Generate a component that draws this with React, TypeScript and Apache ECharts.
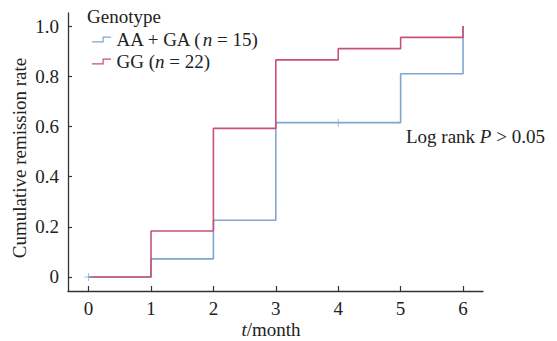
import React, { useEffect, useRef } from "react";
import * as echarts from "echarts";

const months = [0, 1, 2, 3, 4, 5, 6];
const yTicks = [0, 0.2, 0.4, 0.6, 0.8, 1.0];
const groupNames = ["AA + GA (n = 15)", "GG (n = 22)"];
const aaGaTimes = [0, 1, 2, 3, 5, 6];
const aaGaRates = [0, 0.072, 0.226, 0.615, 0.81, 1.0];
const ggTimes = [0, 1, 2, 3, 4, 5, 6];
const ggRates = [0, 0.183, 0.592, 0.865, 0.91, 0.955, 1.0];
const censorTimes = [0, 4];
const censorRates = [0, 0.615];

const FONT = "Liberation Serif";
const FS = 19;
const BLUE = "#7fa6cf";
const RED = "#c8507a";
const TEXT = "#222";

export default function App() {
  const ref = useRef<HTMLDivElement>(null);
  useEffect(() => {
    if (!ref.current) return;
    const chart = echarts.init(ref.current, undefined, { renderer: "svg" });
    const stepIcon = "path://M0,5 L11,5 L11,0 L20,0 L20,1.3 L12.3,1.3 L12.3,6.3 L0,6.3 Z";
    const italic = { fontStyle: "italic", fontFamily: FONT, fontSize: FS, color: TEXT };
    chart.setOption({
      animation: false,
      backgroundColor: "#fff",
      textStyle: { fontFamily: FONT },
      grid: { left: 68, top: 13, width: 415, height: 278, containLabel: false, outerBoundsMode: "none" },
      legend: {
        orient: "vertical",
        left: 92,
        top: 30,
        padding: 0,
        itemWidth: 20,
        itemHeight: 6,
        itemGap: 3,
        icon: stepIcon,
        data: groupNames,
        formatter: (name: string) => {
          const m = name.match(/^(.*\()n( = .*)$/);
          return m ? `${m[1]}{i|n}${m[2]}` : name;
        },
        textStyle: {
          fontFamily: FONT,
          fontSize: FS,
          color: TEXT,
          rich: { i: italic },
        },
      },
      xAxis: {
        type: "value",
        min: -0.33,
        max: 6.32,
        splitLine: { show: false },
        axisLine: { show: true, onZero: false, lineStyle: { color: "#333", width: 1.3 } },
        axisTick: { show: true, inside: true, length: 5, customValues: months, lineStyle: { color: "#333", width: 1.2 } },
        axisLabel: {
          customValues: months,
          margin: 8,
          fontFamily: FONT,
          fontSize: FS,
          color: TEXT,
          formatter: (v: number) => String(v),
        },
      },
      yAxis: {
        type: "value",
        min: -0.056,
        max: 1.052,
        splitLine: { show: false },
        axisLine: { show: true, onZero: false, lineStyle: { color: "#333", width: 1.3 } },
        axisTick: { show: true, inside: true, length: 4, customValues: yTicks, lineStyle: { color: "#333", width: 1.2 } },
        axisLabel: {
          customValues: yTicks,
          margin: 9,
          fontFamily: FONT,
          fontSize: FS,
          color: TEXT,
          formatter: (v: number) => (Math.abs(v) < 1e-9 ? "0" : v.toFixed(1)),
        },
      },
      series: [
        {
          name: groupNames[0],
          type: "line",
          step: "end",
          showSymbol: false,
          symbol: "none",
          color: BLUE,
          lineStyle: { color: BLUE, width: 1.6 },
          data: aaGaTimes.map((t, i) => [t, aaGaRates[i]]),
          z: 2,
        },
        {
          name: groupNames[1],
          type: "line",
          step: "end",
          showSymbol: false,
          symbol: "none",
          color: RED,
          lineStyle: { color: RED, width: 1.6 },
          data: ggTimes.map((t, i) => [t, ggRates[i]]),
          z: 3,
        },
        {
          name: "censored",
          type: "scatter",
          symbol: "path://M4,0 L5,0 L5,9 L4,9 Z M0,4 L9,4 L9,5 L0,5 Z",
          symbolSize: 8,
          itemStyle: { color: BLUE },
          data: censorTimes.map((t, i) => [t, censorRates[i]]),
          z: 4,
        },
      ],
      graphic: [
        {
          type: "text",
          left: 87,
          top: 7,
          style: { text: "Genotype", fontFamily: FONT, fontSize: FS, fill: TEXT },
        },
        {
          type: "text",
          x: 19,
          y: 158,
          rotation: Math.PI / 2,
          style: {
            text: "Cumulative remission rate",
            fontFamily: FONT,
            fontSize: FS,
            fill: TEXT,
            align: "center",
            verticalAlign: "middle",
          },
        },
        {
          type: "text",
          x: 271,
          y: 329,
          style: {
            text: "{i|t}/month",
            fontFamily: FONT,
            fontSize: FS,
            fill: TEXT,
            align: "center",
            verticalAlign: "middle",
            rich: { i: { fontStyle: "italic", fontFamily: FONT, fontSize: FS, fill: TEXT } },
          },
        },
        {
          type: "text",
          left: 406,
          top: 127,
          style: {
            text: "Log rank {i|P} > 0.05",
            fontFamily: FONT,
            fontSize: FS,
            fill: TEXT,
            rich: { i: { fontStyle: "italic", fontFamily: FONT, fontSize: FS, fill: TEXT } },
          },
        },
      ],
    });
    return () => chart.dispose();
  }, []);
  return <div ref={ref} style={{ position: "fixed", left: 0, top: 0, width: 557, height: 341 }} />;
}
